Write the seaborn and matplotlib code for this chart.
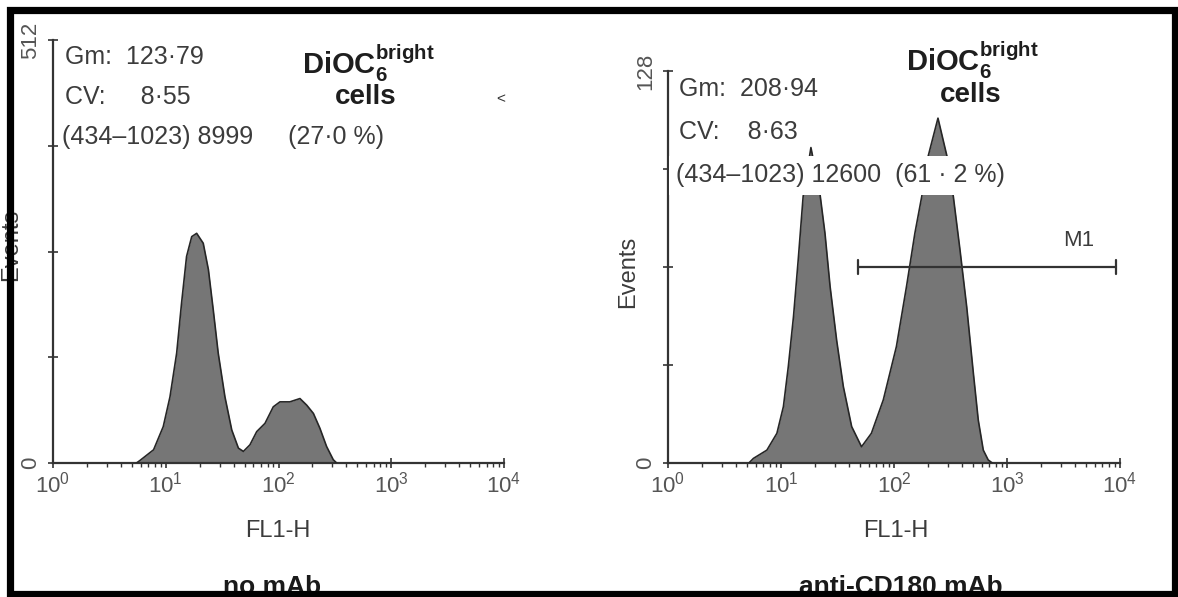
import numpy as np
import pandas as pd
import matplotlib
matplotlib.use("Agg")
import matplotlib.pyplot as plt
from matplotlib.patches import Rectangle
from matplotlib.ticker import LogLocator, NullFormatter, FixedLocator
import seaborn as sns

# ---------------- data ----------------
# left panel: no mAb
left_fl1 = [5.5, 5.9, 7.8, 9.5, 10.9, 12.5, 13.8, 15.3, 17.0, 18.8, 21.5, 23.9, 26.4, 29.2,
            33.5, 38.5, 44.1, 48.8, 55.8, 64.1, 75.9, 89.9, 103, 126, 155, 178, 204, 233,
            267, 306, 328]
left_events = [0, 3, 16, 44, 80, 133, 193, 250, 274, 278, 266, 234, 185, 133,
               80, 40, 18, 14, 22, 38, 48, 68, 74, 74, 78, 70, 60, 42,
               20, 4, 0]
# right panel: anti-CD180 mAb
right_fl1 = [5.2, 5.7, 7.5, 9.2, 10.5, 11.6, 12.9, 14.2, 15.7, 18.4, 22.1, 24.5, 27.2, 31.1,
             35.6, 42.2, 51.6, 63.1, 80.4, 105, 129, 153, 176, 200, 245, 295, 335, 384,
             440, 504, 557, 617, 682, 741]
right_events = [0, 1.5, 4.2, 9.7, 18.4, 31.4, 47.8, 66.3, 87, 103, 88, 75, 57.6, 40,
                25, 11.9, 5.3, 9.7, 20.6, 38, 57.6, 75, 87, 100, 112.6, 100, 87, 69.5,
                51, 29.3, 14, 4.2, 1, 0]

y_max = [512, 128]
y_ticks = [[0, 128, 256, 384, 512], [0, 32, 64, 96, 128]]
x_ticks = [1, 10, 100, 1000, 10000]
x_ticklabels = [r"$10^0$", r"$10^1$", r"$10^2$", r"$10^3$", r"$10^4$"]
panel_titles = ["no mAb", "anti-CD180 mAb"]
stats_gm = ["Gm:  123·79", "Gm:  208·94"]
stats_cv = ["CV:     8·55", "CV:    8·63"]
stats_range = ["(434–1023) 8999     (27·0 %)", "(434–1023) 12600  (61 · 2 %)"]
marker_name = "M1"
marker_range = [48, 9200]
marker_level = 64

# ---------------- style ----------------
sns.set_style("ticks")
plt.rcParams["font.family"] = ["Liberation Sans", "DejaVu Sans"]
plt.rcParams["mathtext.fontset"] = "custom"
plt.rcParams["mathtext.rm"] = "Liberation Sans"
plt.rcParams["mathtext.it"] = "Liberation Sans"
plt.rcParams["mathtext.bf"] = "Liberation Sans:bold"

W, H = 1178, 597
fig = plt.figure(figsize=(W / 100, H / 100), dpi=100)
fig.patch.set_facecolor("white")

def fx(px):
    return px / W

def fy(py):
    return 1 - py / H

TXT = "#3c3c3c"
TICKC = "#555555"
FILL = "#767676"
EDGE = "#262626"

# axes rectangles in pixels: (left, right, top) ; bottom is 463 for both
ax_px = [(53, 504, 40), (668, 1120, 71)]
axes = []
for (l, r, t) in ax_px:
    ax = fig.add_axes([fx(l), fy(463), (r - l) / W, (463 - t) / H])
    axes.append(ax)

datasets = [(left_fl1, left_events), (right_fl1, right_events)]

for i, ax in enumerate(axes):
    xs, ys = datasets[i]
    df = pd.DataFrame({"FL1-H": xs, "Events": ys})
    ax.fill_between(df["FL1-H"], df["Events"], 0, color=FILL, lw=0, zorder=2)
    sns.lineplot(data=df, x="FL1-H", y="Events", ax=ax, color=EDGE, lw=1.2,
                 sort=False, zorder=3)
    ax.set_xscale("log")
    ax.set_xlim(1, 10000)
    ax.set_ylim(0, y_max[i])
    for s in ["top", "right"]:
        ax.spines[s].set_visible(False)
    for s in ["left", "bottom"]:
        ax.spines[s].set_color("#333333")
        ax.spines[s].set_linewidth(1.6)
    ax.xaxis.set_major_locator(FixedLocator(x_ticks))
    ax.set_xticklabels(x_ticklabels)
    ax.xaxis.set_minor_locator(LogLocator(base=10, subs=np.arange(2, 10), numticks=20))
    ax.xaxis.set_minor_formatter(NullFormatter())
    ax.tick_params(axis="x", which="major", direction="inout", length=7, width=1.2,
                   colors="#333333", labelcolor=TICKC, labelsize=16, pad=3)
    ax.tick_params(axis="x", which="minor", direction="out", length=3, width=1.0,
                   colors="#333333")
    ax.set_yticks(y_ticks[i])
    ax.set_yticklabels([str(y_ticks[i][0]), "", "", "", str(y_ticks[i][-1])],
                       rotation=90, va="center")
    ax.tick_params(axis="y", which="major", direction="inout", length=7, width=1.2,
                   colors="#333333", labelcolor=TICKC, labelsize=16, pad=5)
    ax.set_xlabel("")
    ax.set_ylabel("")
    ax.patch.set_alpha(0)

# M1 marker on right panel
axr = axes[1]
axr.plot(marker_range, [marker_level, marker_level], color="#333333", lw=1.6, zorder=4)
for xv in marker_range:
    axr.plot([xv, xv], [marker_level - 2.2, marker_level + 2.2], color="#333333",
             lw=1.6, zorder=4)
axr.text(10 ** 3.63, 72.5, marker_name, fontsize=16, color=TXT, ha="center", va="center")

# small artefact mark on left panel
axes[0].text(9300, 440, "˂", fontsize=11, color="#333333", ha="center", va="center")

# axis labels
for cx in [278, 896]:
    fig.text(fx(cx), fy(531), "FL1-H", fontsize=17, color=TXT, ha="center", va="center")
fig.text(fx(11), fy(245), "Events", fontsize=17, color=TXT, rotation=90,
         ha="center", va="center")
fig.text(fx(628), fy(272), "Events", fontsize=17, color=TXT, rotation=90,
         ha="center", va="center")

# panel titles (bold, partly hidden behind frame)
fig.text(fx(272), fy(575), panel_titles[0], fontsize=19, fontweight="bold",
         color="#1a1a1a", ha="center", va="top")
fig.text(fx(901), fy(575), panel_titles[1], fontsize=19, fontweight="bold",
         color="#1a1a1a", ha="center", va="top")

# statistics text
box = dict(facecolor="white", edgecolor="none", boxstyle="square,pad=0.12")
box3 = dict(facecolor="white", edgecolor="none", boxstyle="square,pad=0.3")
stat_pos = [(65, 57, 97, 137), (679, 89, 132, 175)]
for i, (x0, y1, y2, y3) in enumerate(stat_pos):
    fig.text(fx(x0), fy(y1), stats_gm[i], fontsize=18, color=TXT, ha="left",
             va="center", bbox=box, zorder=5)
    fig.text(fx(x0), fy(y2), stats_cv[i], fontsize=18, color=TXT, ha="left",
             va="center", bbox=box, zorder=5)
    fig.text(fx(x0 - 3), fy(y3), stats_range[i], fontsize=18, color=TXT, ha="left",
             va="center", bbox=box3 if i == 1 else box, zorder=5)

# DiOC6 bright cells
for (cx, y1, cx2, y2) in [(368, 63, 366, 97), (972, 60, 971, 95)]:
    fig.text(fx(cx), fy(y1), r"$\mathbf{DiOC_6^{bright}}$", fontsize=21,
             color="#1e1e1e", ha="center", va="center", zorder=5)
    fig.text(fx(cx2), fy(y2), "cells", fontsize=20, fontweight="bold",
             color="#1e1e1e", ha="center", va="center", zorder=5)

# outer black frame
fig.add_artist(Rectangle((fx(10), fy(593.5)), (1175 - 10) / W, (593.5 - 9.5) / H,
                         transform=fig.transFigure, fill=False, ec="black", lw=5.2,
                         zorder=20))

fig.savefig("out.png", dpi=100, facecolor="white")
